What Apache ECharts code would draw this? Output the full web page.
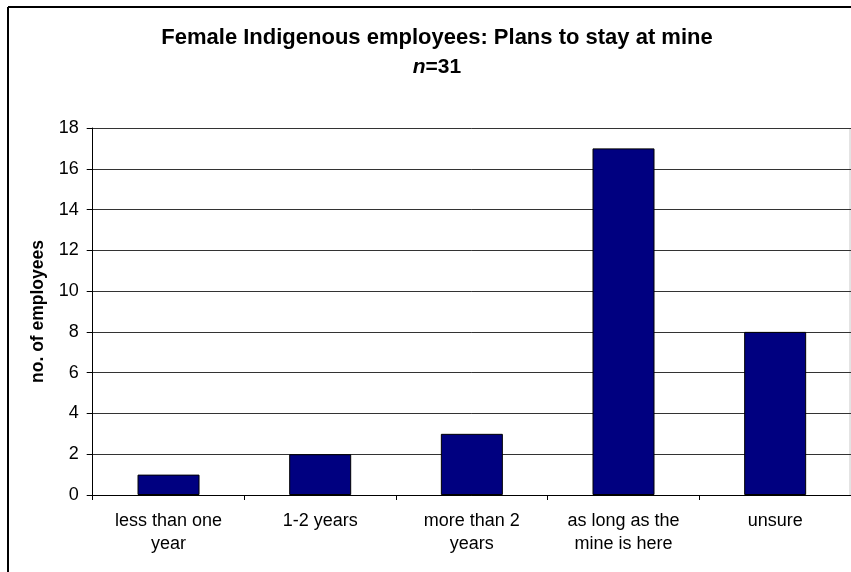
<!DOCTYPE html>
<html>
<head>
<meta charset="utf-8">
<script src="https://cdn.jsdelivr.net/npm/echarts@6/dist/echarts.min.js"></script>
<style>
html,body{margin:0;padding:0;background:#fff;}
#c{width:851px;height:572px;}
</style>
</head>
<body>
<div id="c"></div>
<script>
var categories = ['less than one\nyear', '1-2 years', 'more than 2\nyears', 'as long as the\nmine is here', 'unsure'];
var values = [1, 2, 3, 17, 8];
var titleText = 'Female Indigenous employees: Plans to stay at mine';
var subtitleN = 'n';
var subtitleRest = '=31';
var yAxisName = 'no. of employees';

var chart = echarts.init(document.getElementById('c'), null, {renderer: 'canvas'});
var font = 'Arial, "Liberation Sans", Helvetica, sans-serif';
chart.setOption({
  animation: false,
  backgroundColor: '#fff',
  textStyle: {fontFamily: font},
  graphic: [
    {type: 'line', shape: {x1: 8, y1: 7, x2: 851, y2: 7}, style: {stroke: '#000', lineWidth: 2}},
    {type: 'line', shape: {x1: 8, y1: 7, x2: 8, y2: 572}, style: {stroke: '#000', lineWidth: 2}},
    {type: 'line', shape: {x1: 850, y1: 128, x2: 850, y2: 495}, style: {stroke: '#c8c8c8', lineWidth: 1}},
    {type: 'text', x: 437, y: 38, style: {text: titleText, fontFamily: font, fontSize: 22, fontWeight: 'bold', fill: '#000', textAlign: 'center', textVerticalAlign: 'middle'}},
    {type: 'text', x: 437, y: 67, style: {text: '{i|' + subtitleN + '}{b|' + subtitleRest + '}', fill: '#000', textAlign: 'center', textVerticalAlign: 'middle',
      rich: {i: {fontFamily: font, fontSize: 21, fontWeight: 'bold', fontStyle: 'italic', fill: '#000'}, b: {fontFamily: font, fontSize: 21, fontWeight: 'bold', fill: '#000'}}}}
  ],
  grid: {left: 92.7, top: 128, right: 0, bottom: 77, containLabel: false},
  xAxis: {
    type: 'category',
    data: categories,
    boundaryGap: true,
    axisLine: {show: true, lineStyle: {color: '#000', width: 1}},
    axisTick: {show: true, length: 5, lineStyle: {color: '#000'}},
    axisLabel: {color: '#000', fontSize: 18, fontFamily: font, lineHeight: 23, margin: 15, interval: 0}
  },
  yAxis: {
    type: 'value',
    min: 0, max: 18, interval: 2,
    name: yAxisName,
    nameLocation: 'middle',
    nameGap: 46,
    nameRotate: 90,
    nameTextStyle: {color: '#000', fontSize: 17.5, fontWeight: 'bold', fontFamily: font},
    axisLine: {show: true, lineStyle: {color: '#000', width: 1}},
    axisTick: {show: true, length: 6, lineStyle: {color: '#000'}},
    axisLabel: {color: '#000', fontSize: 18, fontFamily: font, margin: 14},
    splitLine: {show: true, lineStyle: {color: '#333', width: 1}}
  },
  series: [{
    type: 'bar',
    data: values,
    barWidth: 62,
    itemStyle: {color: '#000080', borderColor: '#000', borderWidth: 1}
  }]
});
</script>
</body>
</html>
